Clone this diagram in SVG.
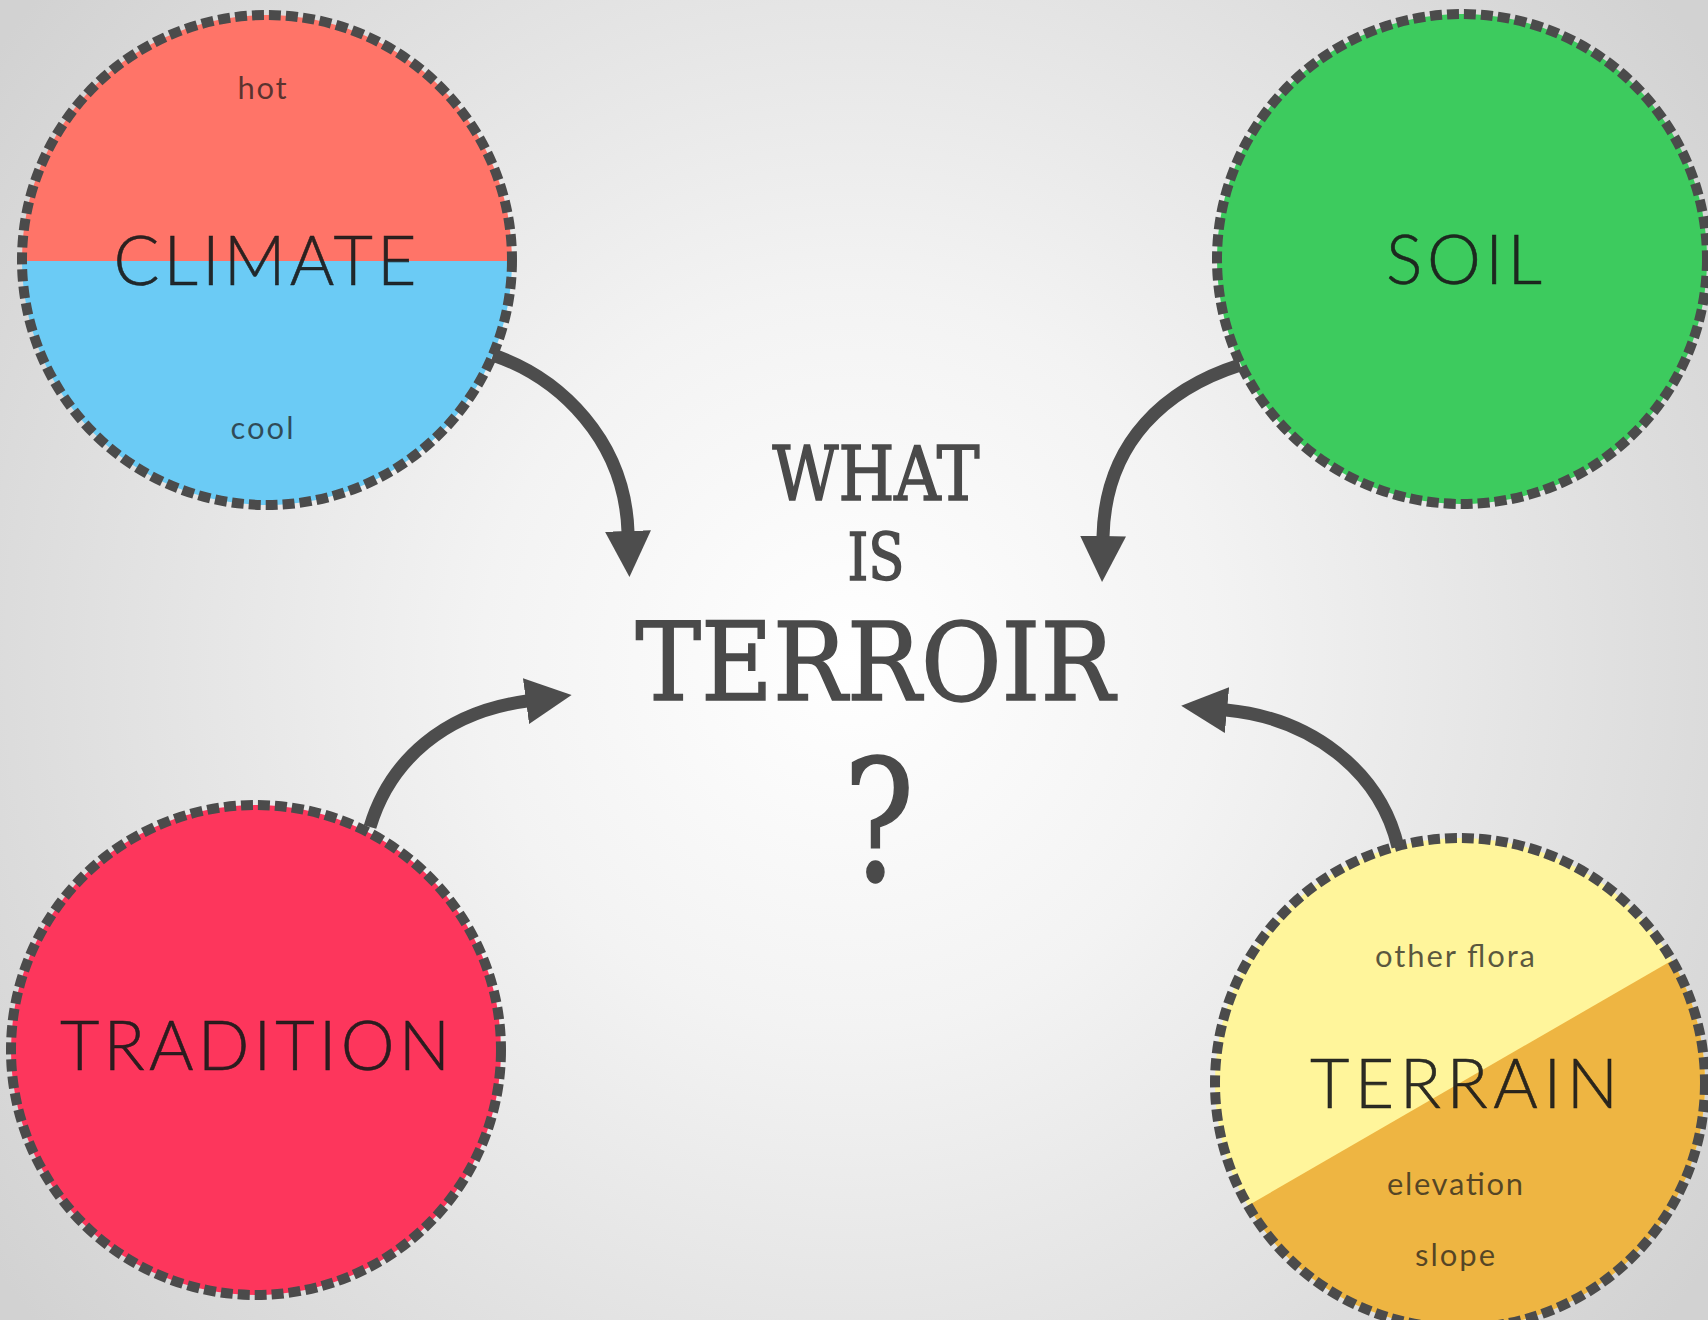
<svg xmlns="http://www.w3.org/2000/svg" width="1708" height="1320" viewBox="0 0 1708 1320">
<style>
.ring{fill:none;stroke:#4b4b4b;stroke-width:10;stroke-dasharray:12 5}
.big{font-family:Lato,"Open Sans",sans-serif;font-weight:300;font-size:68px;fill:#1a1a1a;fill-opacity:.92;stroke:#1a1a1a;stroke-opacity:.9;stroke-width:0.6;text-anchor:middle}
.small{font-family:Lato,"Open Sans",sans-serif;font-weight:400;font-size:31px;fill:#1a1a1a;fill-opacity:.72;text-anchor:middle}
.title{font-family:"DejaVu Serif Condensed","DejaVu Serif",serif;fill:#4a4a4a;stroke:#4a4a4a;stroke-width:1.5;text-anchor:middle}
.conn{fill:none;stroke:#4d4d4d;stroke-width:13}
</style>
<defs>
<radialGradient id="bg" gradientUnits="userSpaceOnUse" cx="850" cy="660" r="1050">
<stop offset="0" stop-color="#ffffff"/>
<stop offset="0.35" stop-color="#f3f3f3"/>
<stop offset="1" stop-color="#d2d2d2"/>
</radialGradient>
<clipPath id="cClimate"><circle cx="267" cy="260" r="245"/></clipPath>
<clipPath id="cTerrain"><circle cx="1460" cy="1083" r="245"/></clipPath>
<marker id="ah" viewBox="0 0 46 46" markerWidth="46" markerHeight="46" refX="1" refY="23" orient="auto" markerUnits="userSpaceOnUse">
<path d="M0,0 L46,23 L0,46 Z" fill="#4d4d4d"/>
</marker>
</defs>
<rect width="1708" height="1320" fill="url(#bg)"/>

<g id="climate">
<g clip-path="url(#cClimate)">
<rect x="0" y="0" width="540" height="261" fill="#ff7468"/>
<rect x="0" y="261" width="540" height="280" fill="#6bcbf5"/>
</g>
<circle class="ring" cx="267" cy="260" r="245"/>
<text class="small" x="262" y="99" textLength="49">hot</text>
<text class="big" x="265" y="285" textLength="303">CLIMATE</text>
<text class="small" x="262" y="439" textLength="63">cool</text>
</g>

<g id="soil">
<circle cx="1462" cy="259" r="245" fill="#3dcb5e"/>
<circle class="ring" cx="1462" cy="259" r="245"/>
<text class="big" x="1464" y="284" textLength="156">SOIL</text>
</g>

<g id="tradition">
<circle cx="256" cy="1050" r="245" fill="#fd365c"/>
<circle class="ring" cx="256" cy="1050" r="245"/>
<text class="big" x="255" y="1070" textLength="390">TRADITION</text>
</g>

<g id="terrain">
<g clip-path="url(#cTerrain)">
<rect x="1200" y="820" width="520" height="520" fill="#fff59b"/>
<polygon points="1114,1283 1806,883 1806,1500 1114,1500" fill="#eeb542"/>
</g>
<circle class="ring" cx="1460" cy="1083" r="245"/>
<text class="small" x="1455" y="967" textLength="160">other flora</text>
<text class="big" x="1464" y="1108" textLength="308">TERRAIN</text>
<text class="small" x="1455" y="1195" textLength="136">elevation</text>
<text class="small" x="1455" y="1266" textLength="80">slope</text>
</g>

<g id="center">
<text class="title" x="876" y="500" font-size="74" textLength="207" lengthAdjust="spacingAndGlyphs">WHAT</text>
<text class="title" x="876" y="580" font-size="66" textLength="57" lengthAdjust="spacingAndGlyphs">IS</text>
<text class="title" x="875" y="700" font-size="108" stroke-width="2.5" textLength="479" lengthAdjust="spacingAndGlyphs">TERROIR</text>
<text class="title" x="879" y="881" font-size="168" stroke-width="6" textLength="71" lengthAdjust="spacingAndGlyphs">?</text>
</g>

<g id="connectors">
<path class="conn" d="M493 355 C560 378 625 440 628 532" marker-end="url(#ah)"/>
<path class="conn" d="M1240 365 C1168 388 1105 440 1103 537" marker-end="url(#ah)"/>
<path class="conn" d="M370 827 C390 760 445 712 527 701" marker-end="url(#ah)"/>
<path class="conn" d="M1398 847 C1380 770 1310 718 1226 710" marker-end="url(#ah)"/>
</g>
</svg>
